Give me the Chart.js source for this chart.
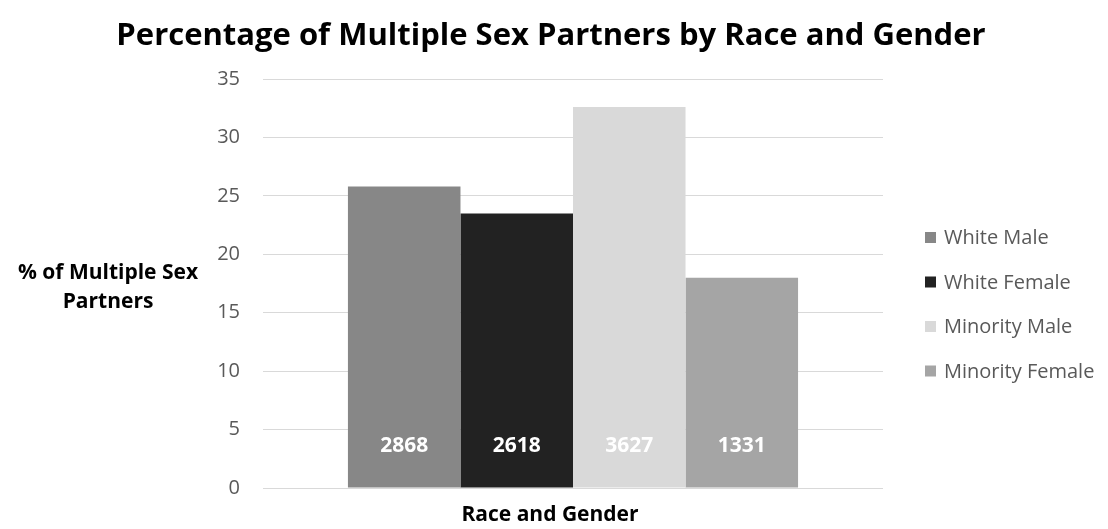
<!DOCTYPE html>
<html>
<head>
<meta charset="utf-8">
<script src="https://cdn.jsdelivr.net/npm/chart.js@4/dist/chart.umd.min.js"></script>
<style>
  html, body { margin: 0; padding: 0; background: #fff; }
  #wrap { width: 1108px; height: 529px; }
</style>
</head>
<body>
<div id="wrap"><canvas id="chart" width="1108" height="529"></canvas></div>
<script>
const groups = ["White Male", "White Female", "Minority Male", "Minority Female"];
const percents = [25.8, 23.5, 32.6, 18.0];
const counts = [2868, 2618, 3627, 1331];
const colors = ["#878787", "#222222", "#d9d9d9", "#a5a5a5"];
const yTicks = [0, 5, 10, 15, 20, 25, 30, 35];

const chartTitle = "Percentage of Multiple Sex Partners by Race and Gender";
const yTitle = ["% of Multiple Sex", "Partners"];
const xTitle = "Race and Gender";

const fontFamily = "'Open Sans', sans-serif";

const datasets = [];
for (let i = 0; i < groups.length; i++) {
    datasets.push({
        label: groups[i],
        data: [percents[i]],
        count: counts[i],
        backgroundColor: colors[i],
        borderWidth: 0,
        barPercentage: 1,
        categoryPercentage: 0.726
    });
}

// title, axis titles, legend and the counts inside the bars
const extras = {
    id: "extras",
    afterDatasetsDraw(chart) {
        const ctx = chart.ctx;
        const y = chart.scales.y;
        const area = chart.chartArea;
        const zero = y.getPixelForValue(0);
        ctx.save();
        ctx.textBaseline = "alphabetic";

        // counts
        ctx.font = "bold 21px " + fontFamily;
        ctx.fillStyle = "#ffffff";
        ctx.textAlign = "center";
        chart.data.datasets.forEach(function(ds, i) {
            const bar = chart.getDatasetMeta(i).data[0];
            ctx.fillText(String(ds.count), bar.x, zero - 36);
        });

        // chart title
        ctx.fillStyle = "#000000";
        ctx.font = "bold 31px " + fontFamily;
        ctx.fillText(chartTitle, 551, 45);

        // y title, horizontal
        ctx.font = "bold 21px " + fontFamily;
        ctx.fillText(yTitle[0], 108, 279);
        ctx.fillText(yTitle[1], 108, 308);

        // x title
        ctx.font = "bold 21px " + fontFamily;
        ctx.fillText(xTitle, 550, 521);

        // legend
        ctx.textAlign = "left";
        ctx.font = "20px " + fontFamily;
        chart.data.datasets.forEach(function(ds, i) {
            const base = 244 + i * 44.5;
            ctx.fillStyle = ds.backgroundColor;
            ctx.fillRect(area.right + 42, base - 12, 11, 11);
            ctx.fillStyle = "#595959";
            ctx.fillText(ds.label, area.right + 61, base);
        });
        ctx.restore();
    }
};

new Chart(document.getElementById("chart"), {
    type: "bar",
    data: { labels: [""], datasets: datasets },
    options: {
        responsive: false,
        animation: false,
        layout: { padding: { left: 0, right: 225, top: 79, bottom: 41 } },
        plugins: {
            title: { display: false },
            legend: { display: false },
            tooltip: { enabled: false }
        },
        scales: {
            x: {
                display: false
            },
            y: {
                min: 0,
                max: 35,
                afterBuildTicks(axis) {
                    axis.ticks = yTicks.map(function(v) { return { value: v }; });
                },
                afterFit(axis) {
                    axis.width = 263;
                },
                grid: { color: "#d9d9d9", lineWidth: 1, drawTicks: false },
                border: { display: false },
                ticks: {
                    color: "#595959",
                    padding: 23,
                    font: { family: fontFamily, size: 20 }
                }
            }
        }
    },
    plugins: [extras]
});
</script>
</body>
</html>
